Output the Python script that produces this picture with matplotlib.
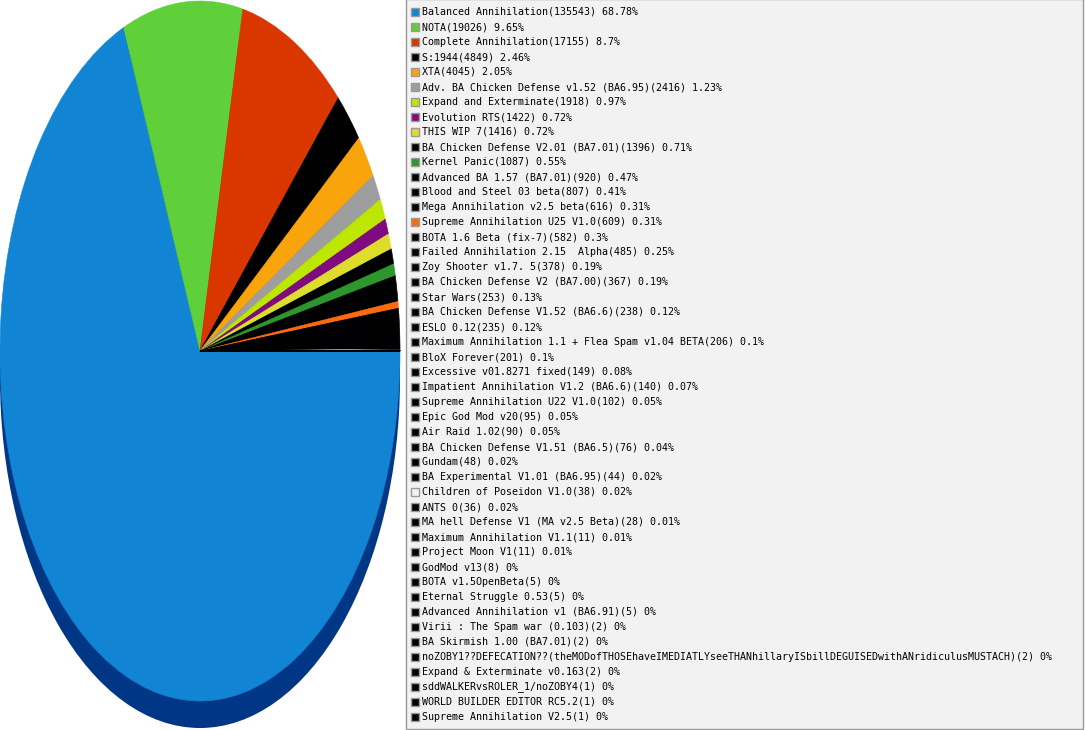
import matplotlib
matplotlib.use("Agg")
import matplotlib.pyplot as plt
from matplotlib.patches import Ellipse, Rectangle

# mod name, games played, slice colour
mods = [
    "Balanced Annihilation", "NOTA", "Complete Annihilation", "S:1944", "XTA",
    "Adv. BA Chicken Defense v1.52 (BA6.95)", "Expand and Exterminate",
    "Evolution RTS", "THIS WIP 7", "BA Chicken Defense V2.01 (BA7.01)",
    "Kernel Panic", "Advanced BA 1.57 (BA7.01)", "Blood and Steel 03 beta",
    "Mega Annihilation v2.5 beta", "Supreme Annihilation U25 V1.0",
    "BOTA 1.6 Beta (fix-7)", "Failed Annihilation 2.15  Alpha",
    "Zoy Shooter v1.7. 5", "BA Chicken Defense V2 (BA7.00)", "Star Wars",
    "BA Chicken Defense V1.52 (BA6.6)", "ESLO 0.12",
    "Maximum Annihilation 1.1 + Flea Spam v1.04 BETA", "BloX Forever",
    "Excessive v01.8271 fixed", "Impatient Annihilation V1.2 (BA6.6)",
    "Supreme Annihilation U22 V1.0", "Epic God Mod v20", "Air Raid 1.02",
    "BA Chicken Defense V1.51 (BA6.5)", "Gundam",
    "BA Experimental V1.01 (BA6.95)", "Children of Poseidon V1.0", "ANTS 0",
    "MA hell Defense V1 (MA v2.5 Beta)", "Maximum Annihilation V1.1",
    "Project Moon V1", "GodMod v13", "BOTA v1.5OpenBeta", "Eternal Struggle 0.53",
    "Advanced Annihilation v1 (BA6.91)", "Virii : The Spam war (0.103)",
    "BA Skirmish 1.00 (BA7.01)",
    "noZOBY1??DEFECATION??(theMODofTHOSEhaveIMEDIATLYseeTHANhillaryISbillDEGUISEDwithANridiculusMUSTACH)",
    "Expand & Exterminate v0.163", "sddWALKERvsROLER_1/noZOBY4",
    "WORLD BUILDER EDITOR RC5.2", "Supreme Annihilation V2.5",
]
games = [
    135543, 19026, 17155, 4849, 4045, 2416, 1918, 1422, 1416, 1396,
    1087, 920, 807, 616, 609, 582, 485, 378, 367, 253,
    238, 235, 206, 201, 149, 140, 102, 95, 90, 76,
    48, 44, 38, 36, 28, 11, 11, 8, 5, 5,
    5, 2, 2, 2, 2, 1, 1, 1,
]
colors = (["#1185d4", "#5fcf3a", "#d93600", "#000000", "#f9a40b", "#9e9e9e",
           "#bde600", "#800a80", "#dedd2b", "#000000", "#2d962d",
           "#000000", "#000000", "#000000", "#ff6a10"]
          + ["#000000"] * 17 + ["#f2f2f2"] + ["#000000"] * 15)

W, H = 1085, 730
fig = plt.figure(figsize=(W / 100, H / 100), dpi=100)

# pie: ellipse 400 px wide, 700 px tall, shadow 27 px below
shadow = 27 / 350
pax = fig.add_axes([0, (H - 728) / H, 400 / W, 727 / H])
pax.add_patch(Ellipse((0, -shadow), 2, 2, facecolor="#003686", edgecolor="none", zorder=0))
wedges, _ = pax.pie(games, colors=colors, startangle=0, counterclock=False,
                    wedgeprops=dict(linewidth=0.4))
for w in wedges:
    w.set_edgecolor(w.get_facecolor())  # close the hairline gaps between slices
pax.set_xlim(-1, 1)
pax.set_ylim(-1 - shadow, 1)
pax.set_aspect("auto")
pax.axis("off")

# legend drawn in pixel coordinates
lax = fig.add_axes([0, 0, 1, 1])
lax.set_xlim(0, W)
lax.set_ylim(H, 0)
lax.axis("off")
lax.add_patch(Rectangle((405.5, -1), 677.5, 729.5, facecolor="#f2f2f2",
                        edgecolor="#999999", linewidth=1))

total = sum(games)
for i, (name, n, c) in enumerate(zip(mods, games, colors)):
    y = 12 + 15 * i
    pct = round(n / total * 100, 2)
    lax.add_patch(Rectangle((410.5, y - 4), 8, 8, facecolor=c,
                            edgecolor="#9a9a9a", linewidth=1))
    lax.text(422, y, f"{name}({n}) {pct:g}%", fontsize=7.2,
             family="DejaVu Sans Mono", va="center", ha="left", color="#000000")

fig.savefig("out.png", dpi=100)
